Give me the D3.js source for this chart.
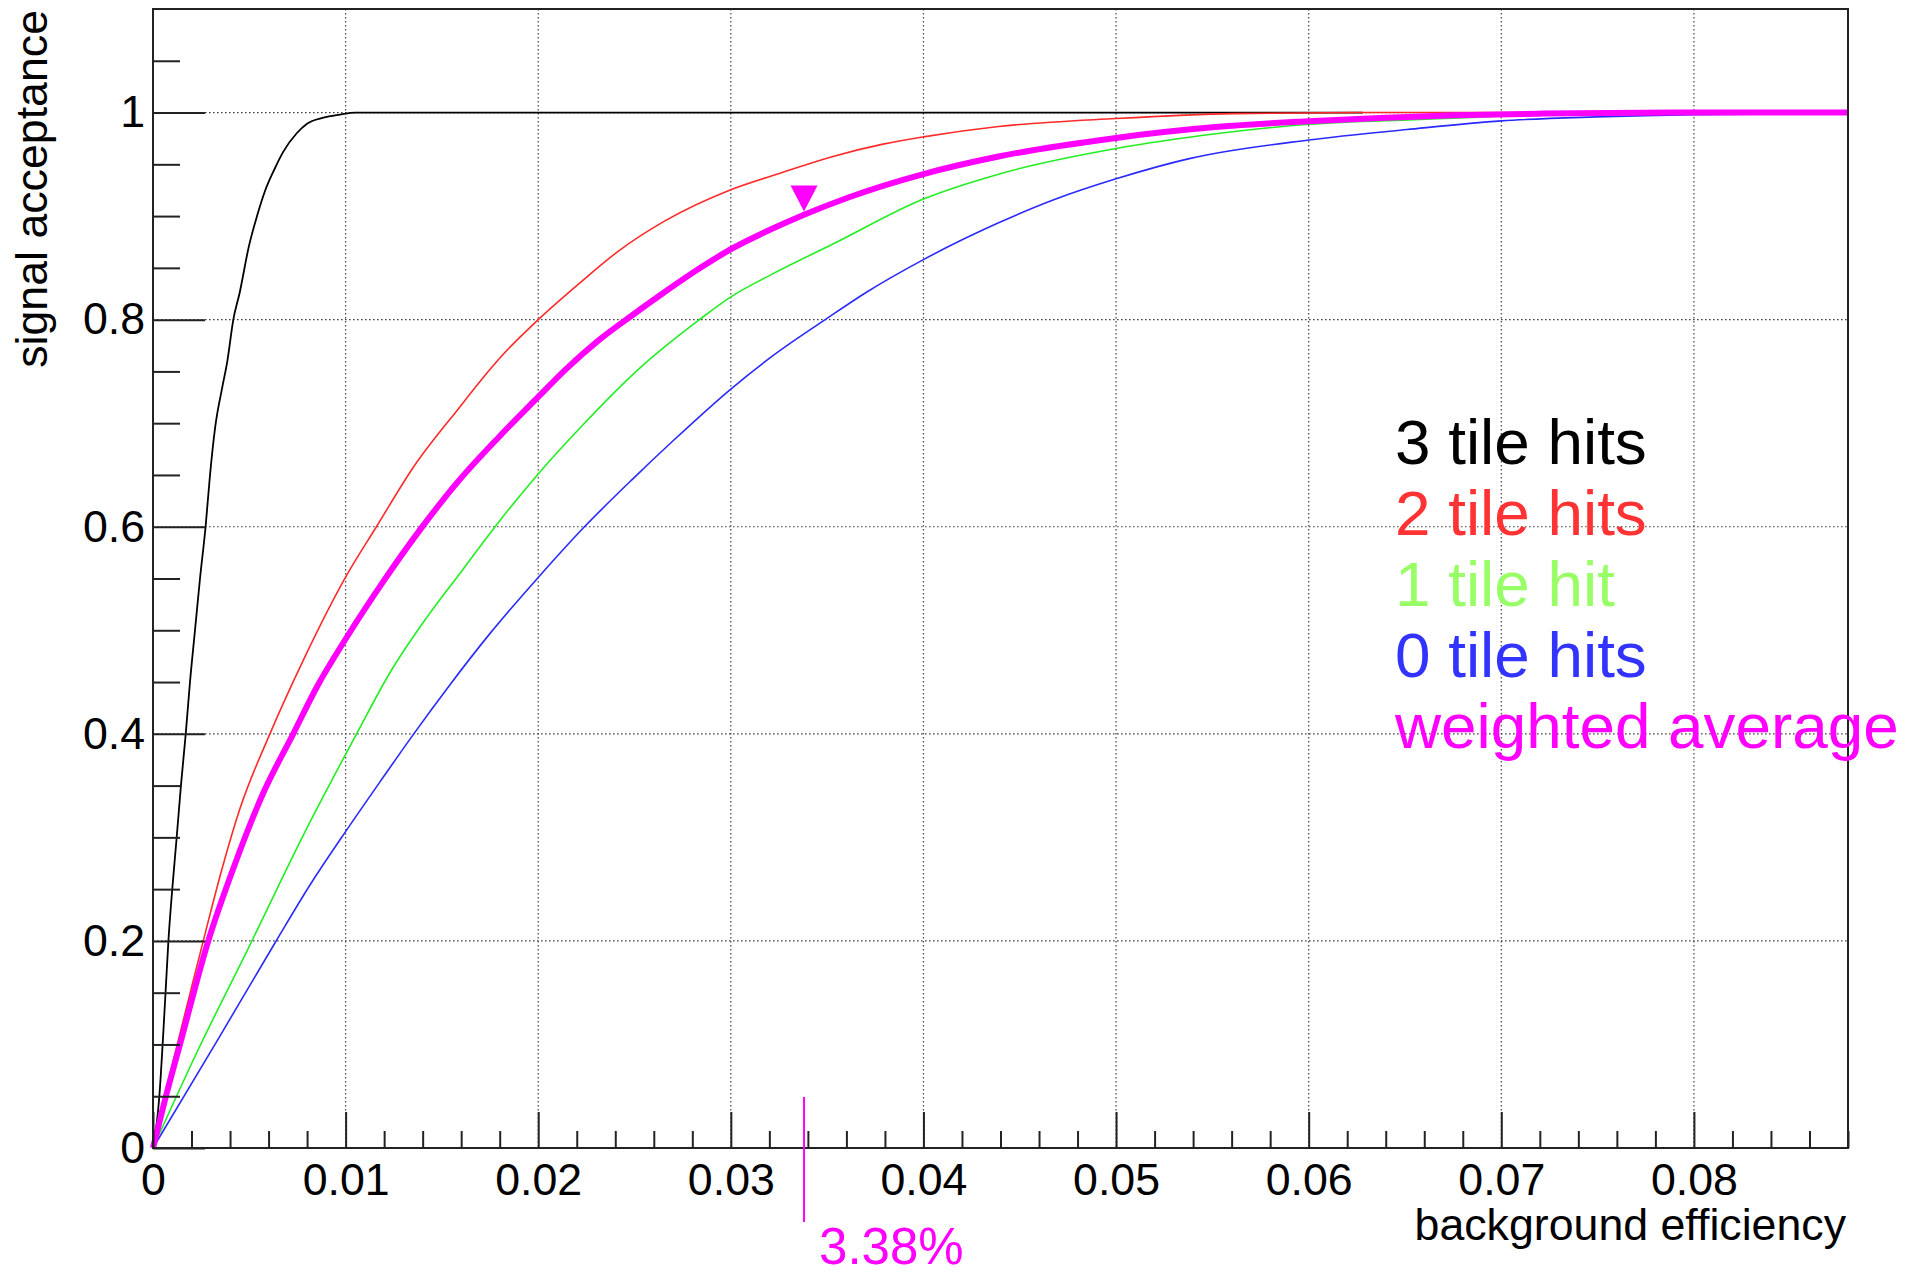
<!DOCTYPE html>
<html>
<head>
<meta charset="utf-8">
<script src="https://cdn.jsdelivr.net/npm/d3@7"></script>
<style>
  html, body { margin: 0; padding: 0; background: #fff; }
  svg { display: block; font-family: "Liberation Sans", Arial, Helvetica, sans-serif; }
</style>
</head>
<body>
<svg id="chart" width="1918" height="1276"></svg>
<script>
// ROC curves: signal acceptance vs background efficiency, split by number of tile hits

const seriesNames = ["3 tile hits", "2 tile hits", "1 tile hit", "0 tile hits", "weighted average"];

const bkg3 = [0, 0.00033, 0.0005, 0.00066, 0.0008, 0.001, 0.00123, 0.00145, 0.0017, 0.00192, 0.00218, 0.00244, 0.00273, 0.00296, 0.00322, 0.0036, 0.00386, 0.00417, 0.0045, 0.00498, 0.0054, 0.00581, 0.0063, 0.00676, 0.00746, 0.00798, 0.00884, 0.0097, 0.0105, 0.0628];
const sig3 = [0, 0.05, 0.1, 0.153, 0.2, 0.25, 0.3, 0.35, 0.4, 0.45, 0.5, 0.55, 0.6, 0.65, 0.695, 0.735, 0.76, 0.8, 0.826, 0.871, 0.9, 0.924, 0.945, 0.962, 0.98, 0.989, 0.995, 0.998, 1.0, 1.0];

const bkg2 = [0, 0.0006, 0.0013, 0.002, 0.00261, 0.00356, 0.00452, 0.00607, 0.0078, 0.01005, 0.0116, 0.0135, 0.0159, 0.0175, 0.01796, 0.02, 0.0221, 0.0242, 0.0266, 0.03, 0.03266, 0.0353, 0.0379, 0.04, 0.0439, 0.05, 0.0561, 0.0625, 0.088];
const sig2 = [0, 0.05, 0.103, 0.155, 0.2, 0.268, 0.328, 0.4, 0.471, 0.553, 0.6, 0.657, 0.715, 0.752, 0.762, 0.8, 0.8345, 0.8667, 0.8956, 0.9255, 0.942, 0.9576, 0.9695, 0.9765, 0.9865, 0.9942, 0.999, 1.0, 1.0];

const bkg1 = [0, 0.00227, 0.00503, 0.0078, 0.01057, 0.0123, 0.0142, 0.0161, 0.0178, 0.02, 0.0223, 0.0252, 0.0283, 0.03, 0.0321, 0.0353, 0.04, 0.0439, 0.05, 0.0553, 0.06, 0.0655, 0.0678, 0.072, 0.08, 0.088];
const sig1 = [0, 0.092, 0.196, 0.302, 0.4, 0.459, 0.512, 0.559, 0.601, 0.651, 0.698, 0.752, 0.799, 0.822, 0.8435, 0.873, 0.9165, 0.9405, 0.9652, 0.9797, 0.9887, 0.9932, 0.9948, 0.998, 0.999, 1.0];

const bkg0 = [0, 0.00322, 0.00633, 0.00815, 0.01005, 0.01195, 0.0135, 0.0154, 0.0175, 0.02, 0.0223, 0.0249, 0.027, 0.03, 0.0321, 0.0349, 0.037, 0.04, 0.0439, 0.0468, 0.05, 0.0538, 0.06, 0.0651, 0.07, 0.0749, 0.08, 0.088];
const sig0 = [0, 0.1, 0.198, 0.254, 0.307, 0.358, 0.399, 0.447, 0.497, 0.551, 0.598, 0.646, 0.683, 0.733, 0.764, 0.8, 0.826, 0.858, 0.8935, 0.916, 0.936, 0.9555, 0.9735, 0.9836, 0.992, 0.9958, 0.998, 0.999];

const bkgAvg = [0, 0.0006, 0.0014, 0.00287, 0.00417, 0.00573, 0.00728, 0.0085, 0.01005, 0.01195, 0.01386, 0.0159, 0.01796, 0.02, 0.0214, 0.0231, 0.0249, 0.0264, 0.0285, 0.03, 0.032, 0.0338, 0.0361, 0.04, 0.0439, 0.05, 0.0553, 0.06, 0.0637, 0.0676, 0.0722, 0.0791, 0.088];
const sigAvg = [0, 0.045, 0.1, 0.2, 0.27, 0.343, 0.4, 0.445, 0.493, 0.547, 0.597, 0.645, 0.6867, 0.7253, 0.7515, 0.7795, 0.8045, 0.8245, 0.851, 0.868, 0.8865, 0.9013, 0.918, 0.9406, 0.9575, 0.9755, 0.9862, 0.9916, 0.9948, 0.9974, 0.999, 1.0, 1.0];

// working point on the weighted average
const cutBkg = 0.0338;
const cutLabel = "3.38%";
const cutMarkerSig = 0.917;

const xTicks = [0, 0.01, 0.02, 0.03, 0.04, 0.05, 0.06, 0.07, 0.08];
const xTickLabels = ["0", "0.01", "0.02", "0.03", "0.04", "0.05", "0.06", "0.07", "0.08"];
const yTicks = [0, 0.2, 0.4, 0.6, 0.8, 1.0];
const yTickLabels = ["0", "0.2", "0.4", "0.6", "0.8", "1"];

const xTitle = "background efficiency";
const yTitle = "signal acceptance";

// ---- layout ----
const svg = d3.select("#chart");
const plot = { left: 153, right: 1848, top: 9, bottom: 1148 };
const x = d3.scaleLinear().domain([0, 0.088]).range([plot.left, plot.right]);
const y = d3.scaleLinear().domain([0, 1.1]).range([plot.bottom, plot.top]);

const lineColors = ["#000000", "#ff2a2a", "#22ee22", "#2a2aff", "#ff00ff"];
const textColors = ["#000000", "#ff3333", "#99ff66", "#3333ff", "#ff00ff"];
const lineWidths = [1.8, 1.6, 1.6, 1.6, 6];

const labelSize = 44.7;

// grid (dotted)
const grid = svg.append("g").attr("stroke", "#444").attr("stroke-width", 1.2).attr("stroke-dasharray", "1.6,2.4");
grid.selectAll("line.gx").data(xTicks.filter(d => d > 0)).join("line")
  .attr("x1", d => x(d)).attr("x2", d => x(d)).attr("y1", plot.top).attr("y2", plot.bottom);
grid.selectAll("line.gy").data(yTicks.filter(d => d > 0)).join("line")
  .attr("y1", d => y(d)).attr("y2", d => y(d)).attr("x1", plot.left).attr("x2", plot.right);

// curves
const seriesData = [
  d3.zip(bkg3, sig3),
  d3.zip(bkg2, sig2),
  d3.zip(bkg1, sig1),
  d3.zip(bkg0, sig0),
  d3.zip(bkgAvg, sigAvg)
];
const line = d3.line().x(d => x(d[0])).y(d => y(d[1])).curve(d3.curveMonotoneX);
const drawOrder = [0, 1, 3, 2, 4];
svg.append("g").selectAll("path").data(drawOrder).join("path")
  .attr("d", i => line(seriesData[i]))
  .attr("fill", "none")
  .attr("stroke", i => lineColors[i])
  .attr("stroke-width", i => lineWidths[i])
  .attr("stroke-linejoin", "round");

// axes: major + minor ticks pointing inward
function styleAxis(g) {
  g.select(".domain").remove();
  g.selectAll(".tick line").attr("stroke", "#222").attr("stroke-width", 2);
  g.selectAll(".tick text").attr("fill", "#000").attr("font-size", labelSize)
    .attr("font-family", "Liberation Sans, Arial, sans-serif");
}

const xMinor = d3.range(0, 45).map(i => i * 0.002).filter(v => v <= 0.088 && Math.round(v * 1000) % 10 !== 0);
const yMinor = d3.range(0, 23).map(i => i * 0.05).filter(v => v < 1.1 && Math.round(v * 100) % 20 !== 0);

svg.append("g").attr("transform", `translate(0,${plot.bottom})`)
  .call(d3.axisBottom(x).tickValues(xMinor).tickFormat("").tickSizeInner(-17).tickSizeOuter(0))
  .call(styleAxis);
svg.append("g").attr("transform", `translate(0,${plot.bottom})`)
  .call(d3.axisBottom(x).tickValues(xTicks).tickFormat((d, i) => xTickLabels[i]).tickSizeInner(-36).tickSizeOuter(0).tickPadding(15))
  .call(styleAxis);

svg.append("g").attr("transform", `translate(${plot.left},0)`)
  .call(d3.axisLeft(y).tickValues(yMinor).tickFormat("").tickSizeInner(-27).tickSizeOuter(0))
  .call(styleAxis);
svg.append("g").attr("transform", `translate(${plot.left},0)`)
  .call(d3.axisLeft(y).tickValues(yTicks).tickFormat((d, i) => yTickLabels[i]).tickSizeInner(-52).tickSizeOuter(0).tickPadding(8))
  .call(styleAxis);

// frame
svg.append("rect")
  .attr("x", plot.left).attr("y", plot.top)
  .attr("width", plot.right - plot.left).attr("height", plot.bottom - plot.top)
  .attr("fill", "none").attr("stroke", "#222").attr("stroke-width", 2);

// axis titles
svg.append("text")
  .attr("x", plot.right - 2).attr("y", 1240)
  .attr("text-anchor", "end").attr("font-size", labelSize).attr("fill", "#000")
  .text(xTitle);
svg.append("text")
  .attr("transform", "translate(47,10) rotate(-90)")
  .attr("text-anchor", "end").attr("font-size", labelSize).attr("fill", "#000")
  .text(yTitle);

// working point: marker on the curve, tick below the axis and its label
const mx = x(cutBkg), my = y(cutMarkerSig);
svg.append("path")
  .attr("d", `M${mx - 13.5},${my - 13} L${mx + 13.5},${my - 13} L${mx},${my + 13} Z`)
  .attr("fill", "#ff00ff");
svg.append("line")
  .attr("x1", mx).attr("x2", mx)
  .attr("y1", y(0) - 51).attr("y2", y(0) + 74)
  .attr("stroke", "#ff00ff").attr("stroke-width", 2);
svg.append("text")
  .attr("x", mx + 15).attr("y", 1264)
  .attr("font-size", 51).attr("fill", "#ff00ff")
  .text(cutLabel);

// legend text
svg.append("g").selectAll("text").data(seriesNames).join("text")
  .attr("x", 1395)
  .attr("y", (d, i) => 464 + i * 71)
  .attr("font-size", 63.8)
  .attr("fill", (d, i) => textColors[i])
  .text(d => d);
</script>
</body>
</html>
